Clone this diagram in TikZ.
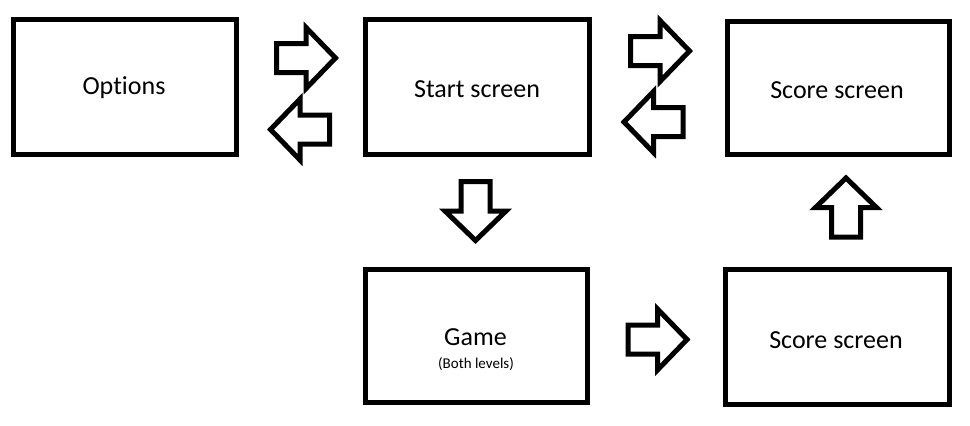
\documentclass[tikz,border=0pt]{standalone}
\usepackage{fontspec}
\setmainfont[Ligatures=NoCommon]{Carlito}
\begin{document}
\begin{tikzpicture}[x=1pt,y=-1pt,
  screenbox/.style={draw=black,line width=5pt,inner sep=0pt,rectangle},
  bigtext/.style={anchor=base,inner sep=0pt,font=\fontsize{26}{30}\selectfont},
  smalltext/.style={anchor=base,inner sep=0pt,font=\fontsize{15}{18}\selectfont},
  arrowline/.style={draw=black,fill=white,line width=5pt,line join=miter},
  blockarrow/.pic={\draw[arrowline] (-29.5,-14.5) -- (0,-14.5) -- (0,-30.5) -- (29.5,0) -- (0,30.5) -- (0,14.5) -- (-29.5,14.5) -- cycle;}
]
\useasboundingbox (0,0) rectangle (970,426);
% boxes
\node[screenbox,minimum width=223pt,minimum height=135pt] (options) at (125,87) {};
\node[screenbox,minimum width=224pt,minimum height=135pt] (start) at (477.5,87) {};
\node[screenbox,minimum width=222pt,minimum height=133pt] (scoretop) at (838.5,88) {};
\node[screenbox,minimum width=222pt,minimum height=133pt] (game) at (476.5,336) {};
\node[screenbox,minimum width=224pt,minimum height=135pt] (scorebot) at (837.5,337) {};
% labels
\node[bigtext] (optionslbl) at (124,94) {Options};
\node[bigtext] (startlbl) at (477,97) {Start screen};
\node[bigtext] (scoretoplbl) at (837,98) {Score screen};
\node[bigtext] (gamelbl) at (475.5,345) {Game};
\node[smalltext] (gamesub) at (476,368) {(Both levels)};
\node[bigtext] (scorebotlbl) at (836,348) {Score screen};
% block arrows
\pic (a1) at (306,58) {blockarrow};
\pic[rotate=180] (a2) at (300,129.5) {blockarrow};
\pic (a3) at (660,51) {blockarrow};
\pic[rotate=180] (a4) at (653.5,122) {blockarrow};
\pic[rotate=-90] (a5) at (475.5,211) {blockarrow};
\pic (a6) at (657.5,339.5) {blockarrow};
\pic[rotate=90] (a7) at (846,207.5) {blockarrow};
\end{tikzpicture}
\end{document}
